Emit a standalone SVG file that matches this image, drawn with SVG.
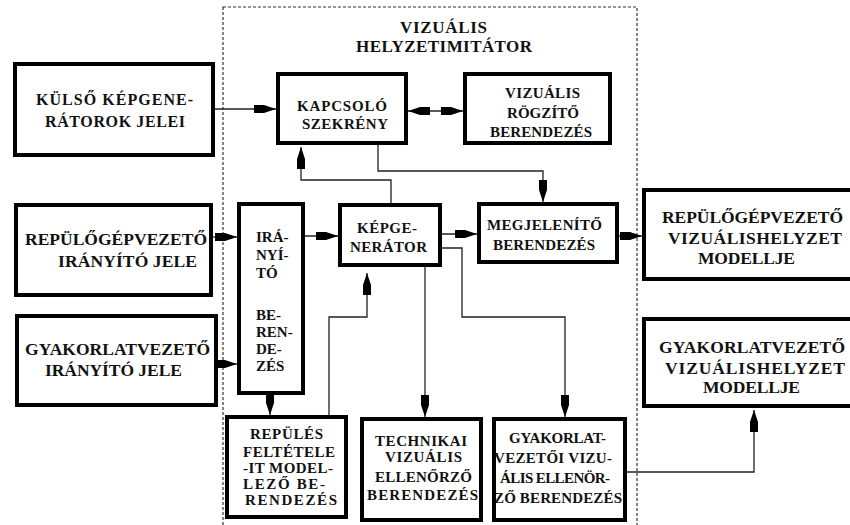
<svg xmlns="http://www.w3.org/2000/svg" width="850" height="525" viewBox="0 0 850 525">
<defs>
<style>
.box{fill:#fff;stroke:#000;stroke-width:4}
.t{font-family:"Liberation Serif","Times New Roman",serif;font-weight:bold;fill:#111;font-size:15px}
.b{font-size:17.5px}
.c{fill:none;stroke:#222;stroke-width:1.3}
.frame{fill:none;stroke:#333;stroke-width:1.2;stroke-dasharray:3,2}
</style>
<marker id="ah" markerUnits="userSpaceOnUse" markerWidth="24" markerHeight="10" viewBox="-23 -5 24 10" refX="0" refY="0" orient="auto-start-reverse">
<path d="M-22,-4 L-12,-4 L0,0 L-12,4 L-22,4 Z" fill="#000"/>
</marker>
</defs>
<rect width="850" height="525" fill="#fff"/>
<g id="frame">
<rect class="frame" x="223" y="7" width="414" height="530"/>
<text class="t" x="400" y="33" textLength="87" lengthAdjust="spacing" style="font-size:17px">VIZUÁLIS</text>
<text class="t" x="356" y="52" textLength="176" lengthAdjust="spacing" style="font-size:17px">HELYZETIMITÁTOR</text>
</g>
<g id="connectors">
<path class="c" d="M215,109 H276" marker-end="url(#ah)"/>
<path class="c" d="M408,111 H463" marker-start="url(#ah)" marker-end="url(#ah)"/>
<path class="c" d="M213,237 H237" marker-end="url(#ah)"/>
<path class="c" d="M218,364 H237" marker-end="url(#ah)"/>
<path class="c" d="M305,236 H338" marker-end="url(#ah)"/>
<path class="c" d="M270,395 V415" marker-end="url(#ah)"/>
<path class="c" d="M329,415 V317 H367 V273" marker-end="url(#ah)"/>
<path class="c" d="M391,203 V180 H301 V147" marker-end="url(#ah)"/>
<path class="c" d="M378,145 V171 H543 V202" marker-end="url(#ah)"/>
<path class="c" d="M442,234 H477" marker-end="url(#ah)"/>
<path class="c" d="M619,236 H642" marker-end="url(#ah)"/>
<path class="c" d="M425,267 V417" marker-end="url(#ah)"/>
<path class="c" d="M442,248 H462 V317 H565 V417" marker-end="url(#ah)"/>
<path class="c" d="M627,472 H754 V410" marker-end="url(#ah)"/>
</g>
<g id="kulso">
<rect class="box" x="15" y="64" width="198" height="91"/>
<text class="t" x="36" y="105" textLength="157" lengthAdjust="spacing" style="font-size:16px">KÜLSŐ KÉPGENE-</text>
<text class="t" x="45" y="127" textLength="140" lengthAdjust="spacing" style="font-size:16px">RÁTOROK JELEI</text>
</g>
<g id="kapcsolo">
<rect class="box" x="278" y="74" width="128" height="69"/>
<text class="t" x="297" y="111" textLength="90" lengthAdjust="spacing">KAPCSOLÓ</text>
<text class="t" x="302" y="129" textLength="86" lengthAdjust="spacing">SZEKRÉNY</text>
</g>
<g id="rogzito">
<rect class="box" x="465" y="74" width="145" height="69"/>
<text class="t" x="505" y="98" textLength="75" lengthAdjust="spacing">VIZUÁLIS</text>
<text class="t" x="507" y="118" textLength="72" lengthAdjust="spacing">RÖGZÍTŐ</text>
<text class="t" x="490" y="137" textLength="102" lengthAdjust="spacing">BERENDEZÉS</text>
</g>
<g id="repulogep-jel">
<rect class="box" x="16" y="205" width="195" height="90"/>
<text class="t b" x="25" y="245" textLength="182" lengthAdjust="spacing">REPÜLŐGÉPVEZETŐ</text>
<text class="t b" x="58" y="267" textLength="139" lengthAdjust="spacing">IRÁNYÍTÓ JELE</text>
</g>
<g id="iranyito">
<rect class="box" x="239" y="204" width="64" height="189"/>
<text class="t" x="256" y="242">IRÁ-</text>
<text class="t" x="256" y="260">NYÍ-</text>
<text class="t" x="256" y="278">TÓ</text>
<text class="t" x="256" y="320">BE-</text>
<text class="t" x="256" y="337">REN-</text>
<text class="t" x="256" y="354">DE-</text>
<text class="t" x="256" y="371">ZÉS</text>
</g>
<g id="gyakorlat-jel">
<rect class="box" x="17" y="316" width="199" height="89"/>
<text class="t b" x="25" y="355" textLength="185" lengthAdjust="spacing">GYAKORLATVEZETŐ</text>
<text class="t b" x="45" y="376" textLength="137" lengthAdjust="spacing">IRÁNYÍTÓ JELE</text>
</g>
<g id="kepgenerator">
<rect class="box" x="340" y="205" width="100" height="60"/>
<text class="t" x="357" y="233" textLength="60" lengthAdjust="spacing">KÉPGE-</text>
<text class="t" x="350" y="252" textLength="77" lengthAdjust="spacing">NERÁTOR</text>
</g>
<g id="megjelenito">
<rect class="box" x="479" y="204" width="138" height="58"/>
<text class="t" x="487" y="230" textLength="115" lengthAdjust="spacing">MEGJELENÍTŐ</text>
<text class="t" x="493" y="250" textLength="102" lengthAdjust="spacing">BERENDEZÉS</text>
</g>
<g id="repulogep-modell">
<rect class="box" x="644" y="190" width="220" height="89"/>
<text class="t b" x="662" y="223" textLength="181" lengthAdjust="spacing">REPÜLŐGÉPVEZETŐ</text>
<text class="t b" x="668" y="244" textLength="174" lengthAdjust="spacing">VIZUÁLISHELYZET</text>
<text class="t b" x="698" y="264" textLength="97" lengthAdjust="spacing">MODELLJE</text>
</g>
<g id="gyakorlat-modell">
<rect class="box" x="644" y="319" width="220" height="87"/>
<text class="t b" x="659" y="353" textLength="186" lengthAdjust="spacing">GYAKORLATVEZETŐ</text>
<text class="t b" x="665" y="374" textLength="180" lengthAdjust="spacing">VIZUÁLISHELYZET</text>
<text class="t b" x="703" y="393" textLength="97" lengthAdjust="spacing">MODELLJE</text>
</g>
<g id="repules">
<rect class="box" x="227" y="417" width="119" height="100"/>
<text class="t" x="250" y="439" textLength="73" lengthAdjust="spacing">REPÜLÉS</text>
<text class="t" x="243" y="457" textLength="92" lengthAdjust="spacing">FELTÉTELE</text>
<text class="t" x="243" y="473" textLength="90" lengthAdjust="spacing">-IT MODEL-</text>
<text class="t" x="243" y="489" textLength="82" lengthAdjust="spacing">LEZŐ BE-</text>
<text class="t" x="245" y="505" textLength="92" lengthAdjust="spacing">RENDEZÉS</text>
</g>
<g id="technikai">
<rect class="box" x="362" y="419" width="119" height="101"/>
<text class="t" x="375" y="446" textLength="92" lengthAdjust="spacing">TECHNIKAI</text>
<text class="t" x="385" y="462" textLength="77" lengthAdjust="spacing">VIZUÁLIS</text>
<text class="t" x="375" y="482" textLength="97" lengthAdjust="spacing">ELLENŐRZŐ</text>
<text class="t" x="367" y="500" textLength="111" lengthAdjust="spacing">BERENDEZÉS</text>
</g>
<g id="gyakorlatvezetoi">
<rect class="box" x="494" y="419" width="131" height="101"/>
<text class="t" x="509" y="443" textLength="97" lengthAdjust="spacing">GYAKORLAT-</text>
<text class="t" x="494" y="463" textLength="118" lengthAdjust="spacing">VEZETŐI VIZU-</text>
<text class="t" x="500" y="483" textLength="110" lengthAdjust="spacing">ÁLIS ELLENÖR-</text>
<text class="t" x="494" y="503" textLength="128" lengthAdjust="spacing">ZŐ BERENDEZÉS</text>
</g>
</svg>
